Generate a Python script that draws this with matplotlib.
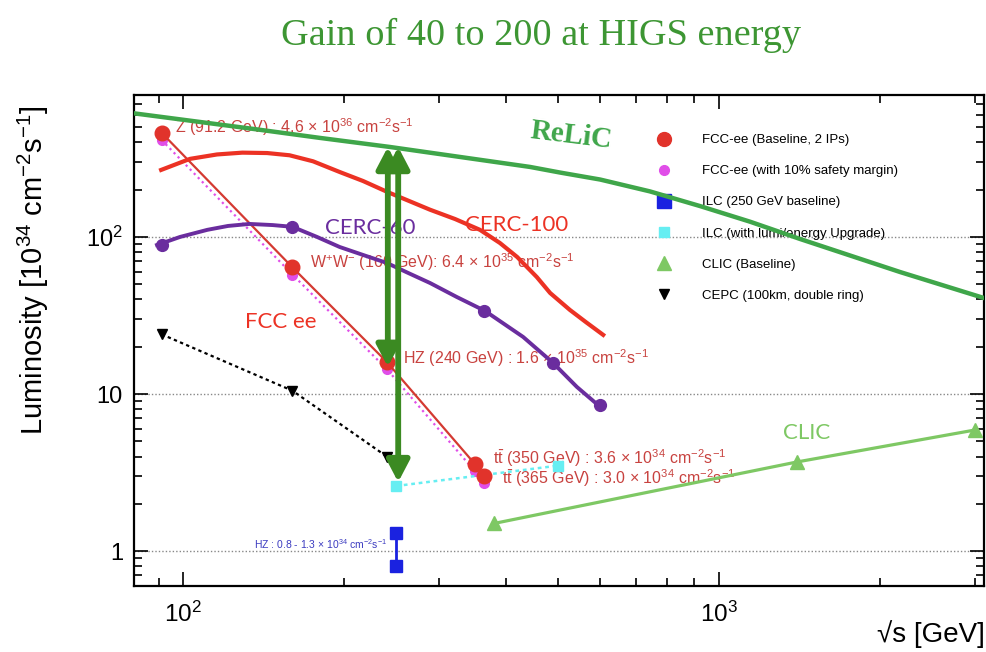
import matplotlib
matplotlib.use("Agg")
import matplotlib.pyplot as plt
from matplotlib.lines import Line2D
from matplotlib.ticker import FixedLocator, FixedFormatter, LogLocator, NullFormatter

plt.rcParams['font.family'] = ['Liberation Sans', 'DejaVu Sans']
plt.rcParams['mathtext.fontset'] = 'custom'
plt.rcParams['mathtext.rm'] = 'Liberation Sans'
plt.rcParams['mathtext.it'] = 'Liberation Sans:italic'
plt.rcParams['mathtext.bf'] = 'Liberation Sans:bold'

# ---------------- data ----------------
fcc_x = [91.2, 160, 240, 350, 365]
fcc_y = [460, 64, 16, 3.6, 3.0]
fcc_margin_y = [414, 57.6, 14.4, 3.24, 2.7]

ilc_x = [250, 250]
ilc_y = [0.8, 1.3]
ilc_up_x = [250, 500]
ilc_up_y = [2.6, 3.5]

clic_x = [380, 1400, 3000]
clic_y = [1.5, 3.7, 5.9]

cepc_x = [91.2, 160, 240]
cepc_y = [24, 10.5, 4.0]

cerc60_pts_x = [91.2, 160, 365, 490, 600]
cerc60_pts_y = [89, 116, 34, 15.8, 8.5]
cerc60_curve_x = [89.4, 98.7, 111, 121.3, 133, 147, 160, 177.8, 196, 216.7, 240,
                  263, 289, 324, 366, 395, 431, 490, 543, 595]
cerc60_curve_y = [88.9, 100, 111, 117.5, 121, 119, 116, 100, 86.3, 76.8, 68.3,
                  59, 50.9, 41.5, 33.8, 28.3, 23.1, 15.8, 11.1, 8.5]

cerc100_x = [91, 103, 115.7, 129, 143.5, 158, 174.8, 196, 216.7, 240, 289, 321.8,
             358, 390, 420, 457, 484, 527, 564.5, 608]
cerc100_y = [267, 314, 335, 344, 342, 331, 303, 259, 227, 194, 149, 130,
             111, 91.6, 74.6, 55.6, 44.0, 34.3, 28.7, 23.8]

relic_x = [81, 139, 180, 243, 444, 505, 600, 743, 923, 1143, 1416, 2177, 3118]
relic_y = [612, 481, 427, 374, 279, 257, 232, 195, 157, 125, 97.1, 59.8, 40.9]

arrow_x = [241, 252]
arrow_top = [374, 374]
arrow_bottom = [14.9, 2.75]

legend_labels = ["FCC-ee (Baseline, 2 IPs)", "FCC-ee (with 10% safety margin)",
                 "ILC (250 GeV baseline)", "ILC (with lumi/energy Upgrade)",
                 "CLIC (Baseline)", "CEPC (100km, double ring)"]

# ---------------- colours ----------------
RED = '#e1332b'
FCC_LINE = '#d43a32'
MAG = '#e04ee8'
BLUE = '#1a22e0'
CYAN = '#66eef2'
CLIC_G = '#7ec864'
PURPLE = '#6a2d9e'
RELIC_G = '#3fa64a'
ARROW_G = '#3b8a22'
TXT_RED = '#c8423f'

fig = plt.figure(figsize=(9.87, 6.52), dpi=100)
ax = fig.add_axes([0.1358, 0.1012, 0.861, 0.753])
ax.set_xscale('log')
ax.set_yscale('log')
ax.set_xlim(81, 3120)
ax.set_ylim(0.6, 800)

# grid (horizontal dotted at major y)
for gy in [1, 10, 100]:
    ax.axhline(gy, color='#888888', lw=1.0, ls=(0, (1, 1.5)), zorder=0.5)

# ReLiC
ax.plot(relic_x, relic_y, color=RELIC_G, lw=3.2, zorder=6, solid_joinstyle='round')
# CERC-100
ax.plot(cerc100_x, cerc100_y, color='#ec3224', lw=3.0, zorder=4, solid_joinstyle='round')
# CERC-60
ax.plot(cerc60_curve_x, cerc60_curve_y, color=PURPLE, lw=2.8, zorder=4, solid_joinstyle='round')
ax.plot(cerc60_pts_x, cerc60_pts_y, 'o', color=PURPLE, ms=8.5, zorder=5)

# FCC-ee
ax.plot(fcc_x, fcc_margin_y, color=MAG, lw=1.6, ls=(0, (1, 1.6)), zorder=3)
ax.plot(fcc_x, fcc_margin_y, 'o', color=MAG, ms=7, zorder=3)
ax.plot(fcc_x, fcc_y, color=FCC_LINE, lw=1.6, zorder=3.5)
ax.plot(fcc_x, fcc_y, 'o', color=RED, ms=10.5, zorder=3.6)

# CEPC
ax.plot(cepc_x, cepc_y, color='black', lw=1.6, ls=(0, (1.5, 1.5)), zorder=3)
ax.plot(cepc_x, cepc_y, 'v', color='black', ms=6.5, zorder=3)

# ILC
ax.plot(ilc_x, ilc_y, color=BLUE, lw=2.0, zorder=3)
ax.plot(ilc_x, ilc_y, 's', color=BLUE, ms=9, zorder=3)
ax.plot(ilc_up_x, ilc_up_y, color=CYAN, lw=1.8, ls=(0, (1.5, 1.5)), zorder=3)
ax.plot(ilc_up_x, ilc_up_y, 's', color=CYAN, ms=7, zorder=3)

# CLIC
ax.plot(clic_x, clic_y, color=CLIC_G, lw=2.3, zorder=3)
ax.plot(clic_x, clic_y, '^', color=CLIC_G, ms=10, zorder=3)

# green double arrows
for xa, yt, yb in zip(arrow_x, arrow_top, arrow_bottom):
    ax.annotate('', xy=(xa, yt), xytext=(xa, yb),
                arrowprops=dict(arrowstyle='<|-|>,head_length=0.65,head_width=0.34',
                                mutation_scale=20, lw=4.2, color=ARROW_G,
                                shrinkA=0, shrinkB=0),
                zorder=7)

# annotations
fs_ann = 11.5
ax.text(96.6, 502, r'Z (91.2 GeV) : 4.6 $\times$ 10$^{36}$ cm$^{-2}$s$^{-1}$',
        color=TXT_RED, fontsize=fs_ann, va='center', ha='left', zorder=2)
ax.text(172.6, 69.3, r'W$^{+}$W$^{-}$ (160 GeV): 6.4 $\times$ 10$^{35}$ cm$^{-2}$s$^{-1}$',
        color=TXT_RED, fontsize=fs_ann, va='center', ha='left', zorder=2)
ax.text(257, 17.0, r'HZ (240 GeV) : 1.6 $\times$ 10$^{35}$ cm$^{-2}$s$^{-1}$',
        color=TXT_RED, fontsize=fs_ann, va='center', ha='left', zorder=2)
ax.text(378, 3.91, r't$\bar{\mathrm{t}}$ (350 GeV) : 3.6 $\times$ 10$^{34}$ cm$^{-2}$s$^{-1}$',
        color=TXT_RED, fontsize=fs_ann, va='center', ha='left', zorder=2)
ax.text(393, 2.92, r't$\bar{\mathrm{t}}$ (365 GeV) : 3.0 $\times$ 10$^{34}$ cm$^{-2}$s$^{-1}$',
        color=TXT_RED, fontsize=fs_ann, va='center', ha='left', zorder=2)
ax.text(240, 1.108, r'HZ : 0.8 - 1.3 $\times$ 10$^{34}$ cm$^{-2}$s$^{-1}$',
        color='#3b3bc0', fontsize=7.5, va='center', ha='right', zorder=2)

# big labels
ax.text(184, 114, 'CERC-60', color=PURPLE, fontsize=16, family='Lato',
        va='center', ha='left', zorder=2)
ax.text(336, 119, 'CERC-100', color='#ec3224', fontsize=16, family='Lato',
        va='center', ha='left', zorder=2)
ax.text(130.5, 28.7, 'FCC ee', color='#ec3224', fontsize=16, family='Lato',
        va='center', ha='left', zorder=2)
ax.text(1315, 5.64, 'CLIC', color=CLIC_G, fontsize=16, family='Lato',
        va='center', ha='left', zorder=2)
ax.text(530, 445, 'ReLiC', color=RELIC_G, fontsize=21, family='Liberation Serif',
        fontweight='bold', va='center', ha='center', rotation=-7, zorder=2)

# legend
handles = [
    Line2D([], [], ls='none', marker='o', color=RED, ms=10),
    Line2D([], [], ls='none', marker='o', color=MAG, ms=7),
    Line2D([], [], ls='none', marker='s', color=BLUE, ms=10),
    Line2D([], [], ls='none', marker='s', color=CYAN, ms=7.5),
    Line2D([], [], ls='none', marker='^', color=CLIC_G, ms=10),
    Line2D([], [], ls='none', marker='v', color='black', ms=7),
]
leg = ax.legend(handles, legend_labels, loc='upper left',
                bbox_to_anchor=(657 / 987, 1 - 134 / 652), bbox_transform=fig.transFigure,
                frameon=False, fontsize=9.5, labelspacing=1.43, handlelength=1.0,
                handletextpad=2.4, borderpad=0, borderaxespad=0)
leg.set_zorder(1)

# ticks
ax.xaxis.set_major_locator(FixedLocator([100, 1000]))
ax.xaxis.set_major_formatter(FixedFormatter([r'$10^{2}$', r'$10^{3}$']))
ax.xaxis.set_minor_locator(LogLocator(base=10, subs=range(2, 10), numticks=20))
ax.xaxis.set_minor_formatter(NullFormatter())
ax.yaxis.set_major_locator(FixedLocator([1, 10, 100]))
ax.yaxis.set_major_formatter(FixedFormatter(['1', '10', r'$10^{2}$']))
ax.yaxis.set_minor_locator(LogLocator(base=10, subs=range(2, 10), numticks=20))
ax.yaxis.set_minor_formatter(NullFormatter())
ax.tick_params(which='both', direction='in', top=True, right=True, width=1.2, colors='black')
ax.tick_params(which='major', length=10)
ax.tick_params(which='minor', length=5.5)
ax.tick_params(axis='x', which='major', pad=11, labelsize=17.5)
ax.tick_params(axis='y', which='major', pad=8, labelsize=17)
for s in ax.spines.values():
    s.set_linewidth(1.6)

fig.text(33 / 987, 1 - 270 / 652, r'Luminosity [10$^{34}$ cm$^{-2}$s$^{-1}$]',
         rotation=90, ha='center', va='center', fontsize=21)
fig.text(985 / 987, 1 - 634 / 652, '\u221As [GeV]',
         ha='right', va='center', fontsize=20)
fig.text(541 / 987, 1 - 35 / 652, 'Gain of 40 to 200 at HIGS energy',
         ha='center', va='center', fontsize=27.5, family='Liberation Serif', color='#3d9633')

fig.savefig('out.png', dpi=100)
